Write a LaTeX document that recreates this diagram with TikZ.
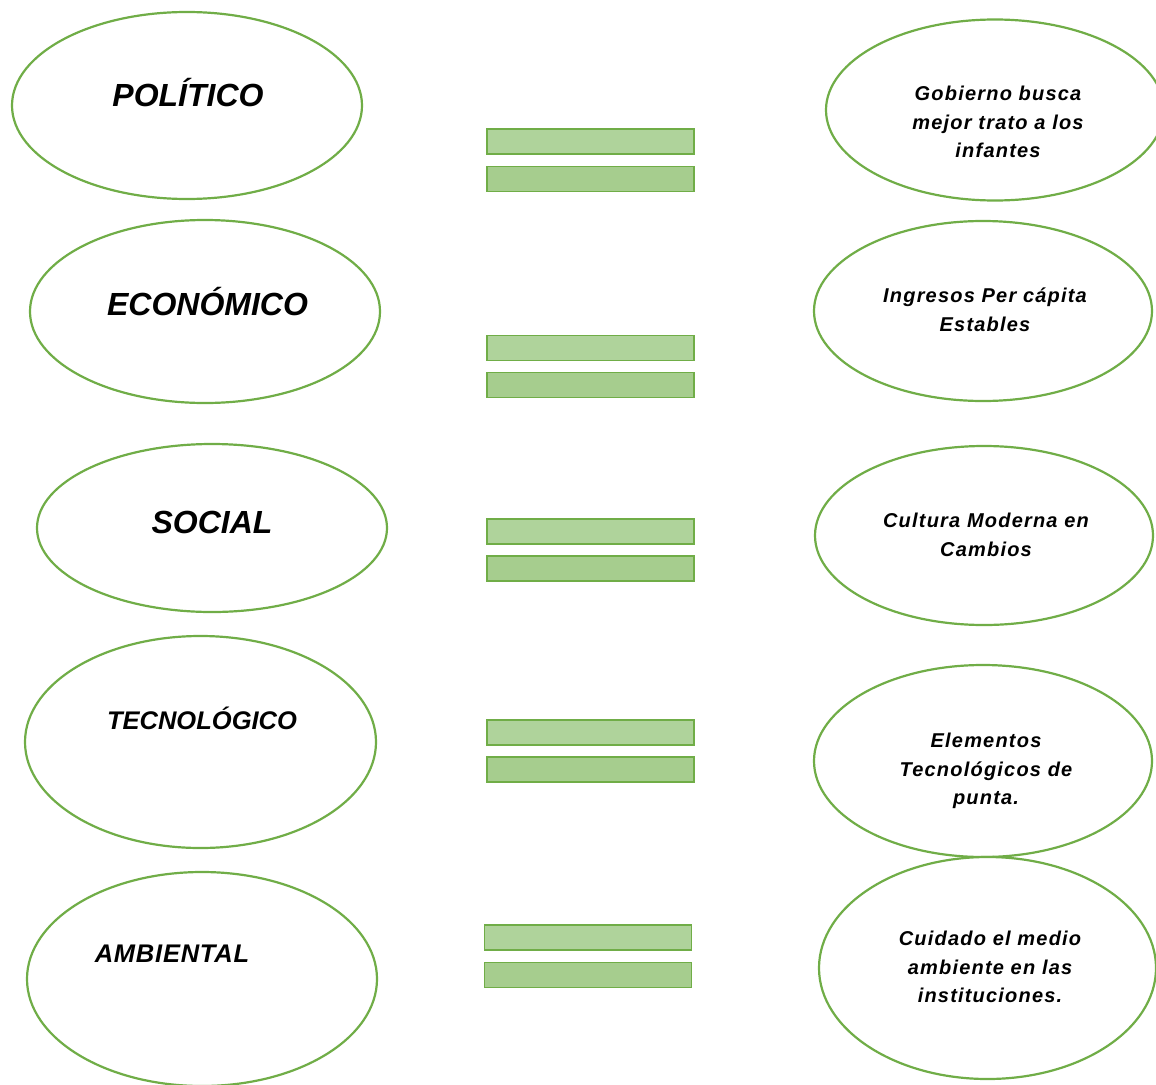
\documentclass[tikz,border=0pt]{standalone}
\usepackage{fontspec}
\setmainfont{Liberation Sans}
\newfontfamily\rtfont[LetterSpace=6]{Liberation Sans}
\newfontfamily\ambfont[LetterSpace=3]{Liberation Sans}
\usetikzlibrary{shapes.geometric}
\definecolor{gline}{HTML}{70AD47}
\definecolor{gfillA}{HTML}{AFD39B}
\definecolor{gfillB}{HTML}{A6CD8E}
\tikzset{
  oval/.style={ellipse, draw=gline, line width=2.2pt, inner sep=0pt, fill=white},
  bar/.style={rectangle, draw=gline, line width=1.9pt, minimum width=207pt, minimum height=25pt, inner sep=0pt},
  bigtxt/.style={anchor=base, inner sep=0pt, font=\fontsize{32}{38}\selectfont\bfseries\itshape},
  midtxt/.style={anchor=base, inner sep=0pt, font=\fontsize{25.5}{30}\selectfont\bfseries\itshape},
  rtxt/.style={align=center, inner sep=0pt, font=\rtfont\fontsize{20}{28.5}\selectfont\bfseries\itshape}
}
\begin{document}
\begin{tikzpicture}[x=1pt,y=-1pt]
\useasboundingbox (0,0) rectangle (1156,1084);
% left ovals
\node[oval, minimum width=350pt, minimum height=187pt] (l1) at (187,105.5) {};
\node[oval, minimum width=350pt, minimum height=183pt] (l2) at (205,311.5) {};
\node[oval, minimum width=350pt, minimum height=168pt] (l3) at (212,528) {};
\node[oval, minimum width=351pt, minimum height=212pt] (l4) at (200.5,742) {};
\node[oval, minimum width=350pt, minimum height=214pt] (l5) at (202,979) {};
\node[bigtxt] (t1) at (188,106) {POLÍTICO};
\node[bigtxt] (t2) at (207.5,315) {ECONÓMICO};
\node[bigtxt] (t3) at (212,533) {SOCIAL};
\node[midtxt] (t4) at (202,729) {TECNOLÓGICO};
\node[midtxt, font=\ambfont\fontsize{25.5}{30}\selectfont\bfseries\itshape] (t5) at (172,962) {AMBIENTAL};
% right ovals
\node[oval, minimum width=338pt, minimum height=181pt] (r1) at (995,110) {};
\node[oval, minimum width=338pt, minimum height=180pt] (r2) at (983,311) {};
\node[oval, minimum width=338pt, minimum height=179pt] (r3) at (984,535.5) {};
\node[oval, minimum width=338pt, minimum height=192pt] (r4) at (983,761) {};
\node[oval, minimum width=337pt, minimum height=222pt] (r5) at (987.5,968) {};
\node[rtxt] (s1) at (998,122) {Gobierno busca\\mejor trato a los\\infantes};
\node[rtxt] (s2) at (985,310) {Ingresos Per cápita\\Estables};
\node[rtxt] (s3) at (986,535) {Cultura Moderna en\\Cambios};
\node[rtxt] (s4) at (986,771) {Elementos\\Tecnológicos de\\punta.};
\node[rtxt] (s5) at (990,967) {Cuidado el medio\\ambiente en las\\instituciones.};
% bars
\node[bar, fill=gfillA] (b1a) at (590.5,141.5) {};
\node[bar, fill=gfillB] (b1b) at (590.5,179) {};
\node[bar, fill=gfillA] (b2a) at (590.5,348) {};
\node[bar, fill=gfillB] (b2b) at (590.5,385) {};
\node[bar, fill=gfillA] (b3a) at (590.5,531.5) {};
\node[bar, fill=gfillB] (b3b) at (590.5,568.5) {};
\node[bar, fill=gfillA] (b4a) at (590.5,732.5) {};
\node[bar, fill=gfillB] (b4b) at (590.5,769.5) {};
\node[bar, fill=gfillA] (b5a) at (588,937.5) {};
\node[bar, fill=gfillB] (b5b) at (588,975) {};
\end{tikzpicture}
\end{document}
